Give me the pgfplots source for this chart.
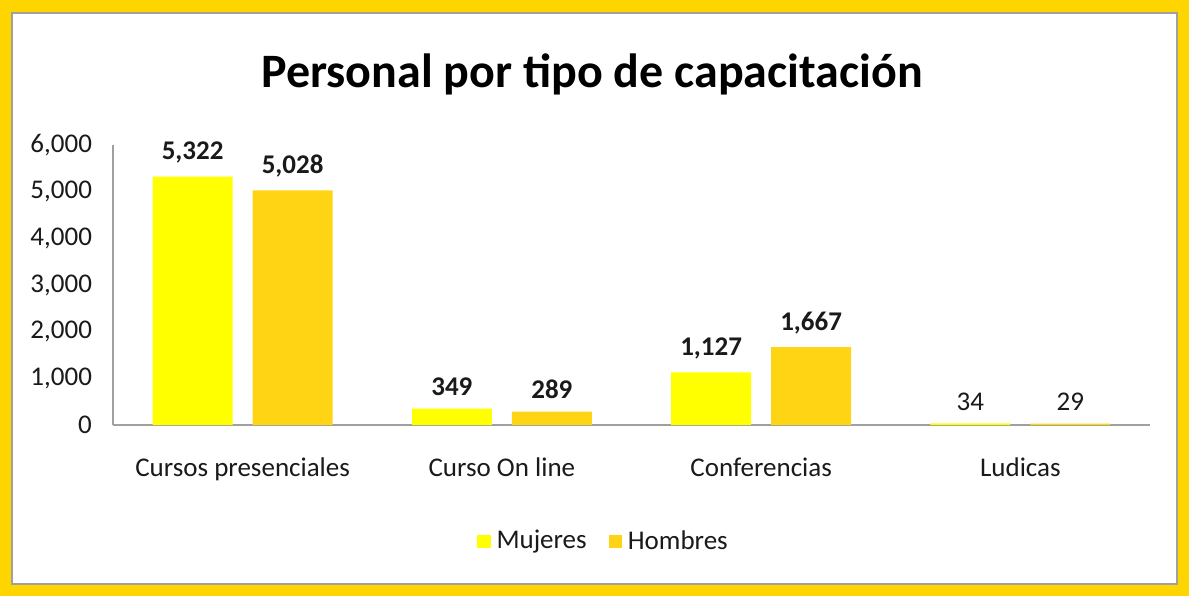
\documentclass[border=0pt]{standalone}
\usepackage{pgfplots}
\pgfplotsset{compat=1.18}
\usepackage{fontspec}
\setmainfont{Carlito}

\definecolor{frame}{HTML}{FFD500}
\definecolor{muj}{HTML}{FFFF00}
\definecolor{hom}{HTML}{FFD414}
\definecolor{axgray}{HTML}{A0A0A0}
\definecolor{txt}{HTML}{1A1A1A}

\begin{document}
\begin{tikzpicture}
% frame (1px = 0.5pt)
\fill[frame] (0,0) rectangle (594.5pt,298pt);
\filldraw[fill=white, draw=axgray, line width=0.6pt] (6pt,6pt) rectangle (588.5pt,291.5pt);
\node[font=\bfseries\fontsize{24}{28}\selectfont, text=black] at (296pt,261pt) {Personal por tipo de capacitación};

\begin{axis}[
    at={(56.5pt,85.5pt)}, anchor=south west,
    scale only axis,
    width=518.5pt, height=140pt,
    ybar=10pt, bar width=40pt,
    xmin=-0.5, xmax=3.5,
    ymin=0, ymax=6000,
    ytick={0,1000,...,6000},
    xtick=data,
    xticklabels={Cursos presenciales,Curso On line,Conferencias,Ludicas},
    axis x line=bottom, axis y line=left,
    axis line style={-, axgray, line width=0.9pt},
    major tick length=0pt,
    tick label style={font=\fontsize{13.5}{15}\selectfont, text=txt},
    yticklabel style={xshift=-7pt},
    xticklabel style={yshift=-13pt},
    /pgf/number format/assume math mode=true,
    /pgf/number format/1000 sep={,},
    scaled y ticks=false,
    nodes near coords={\ifnum\coordindex=3 \pgfmathprintnumber{\pgfplotspointmeta}\else\textbf{\pgfmathprintnumber{\pgfplotspointmeta}}\fi},
    nodes near coords style={font=\fontsize{13.5}{15}\selectfont, text=txt, yshift=3pt},
    legend style={at={(0.474,-0.415)}, anchor=center, draw=none, fill=none,
        legend columns=2, font=\fontsize{13.5}{15}\selectfont, text=txt,
        /tikz/every odd column/.append style={column sep=1pt},
        /tikz/every even column/.append style={column sep=9pt}},
    legend image code/.code={\fill[#1] (0pt,-3.3pt) rectangle (6.6pt,3.3pt);},
]
\addplot[fill=muj, draw=none] coordinates {(0,5322) (1,349) (2,1127) (3,34)};
\addlegendentry{Mujeres}
\addplot[fill=hom, draw=none] coordinates {(0,5028) (1,289) (2,1667) (3,29)};
\addlegendentry{Hombres}
\end{axis}
\end{tikzpicture}
\end{document}
